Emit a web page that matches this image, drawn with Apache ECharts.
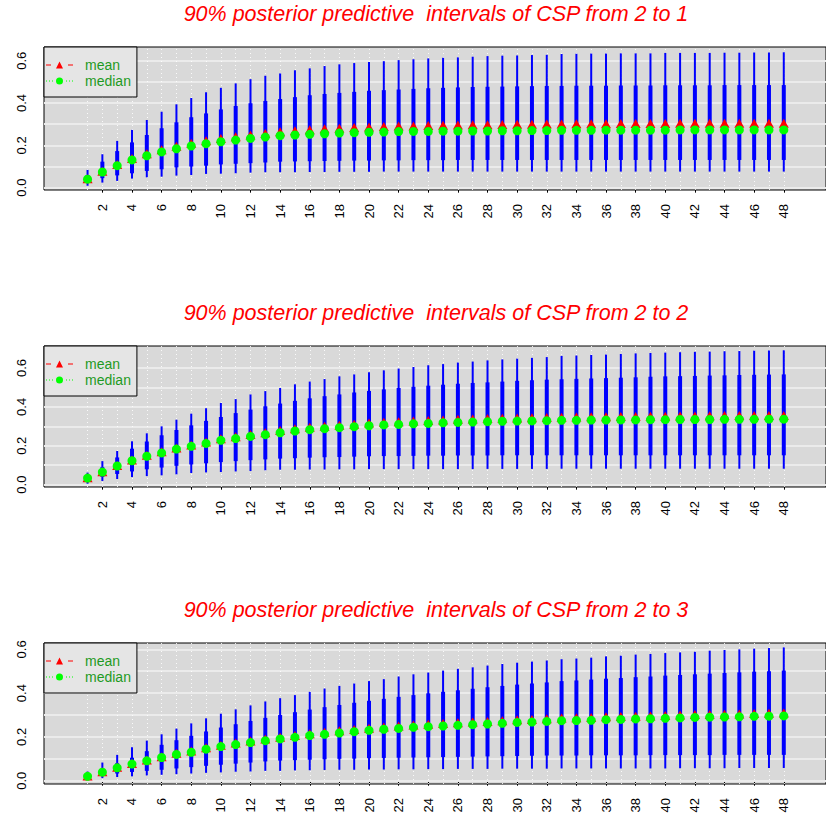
<!DOCTYPE html>
<html>
<head>
<meta charset="utf-8">
<script src="https://cdn.jsdelivr.net/npm/echarts@6/dist/echarts.min.js"></script>
<style>
  html, body { margin: 0; padding: 0; background: #fff; }
  #main { width: 826px; height: 823px; }
</style>
</head>
<body>
<div id="main"></div>
<script>
// forecast steps and axis ticks
var steps = [1,2,3,4,5,6,7,8,9,10,11,12,13,14,15,16,17,18,19,20,21,22,23,24,
             25,26,27,28,29,30,31,32,33,34,35,36,37,38,39,40,41,42,43,44,45,46,47,48];
var xTickValues = [2,4,6,8,10,12,14,16,18,20,22,24,26,28,30,32,34,36,38,40,42,44,46,48];
var yTickValues = [0,0.1,0.2,0.3,0.4,0.5,0.6];
var yLabelValues = [0,0.2,0.4,0.6];
var titles = [
  '90% posterior predictive  intervals of CSP from 2 to 1',
  '90% posterior predictive  intervals of CSP from 2 to 2',
  '90% posterior predictive  intervals of CSP from 2 to 3'
];

// ---- CSP 2 -> 1 ----
var mean1 = [0.042,0.078,0.110,0.138,0.160,0.179,0.196,0.210,0.222,0.232,0.241,0.249,
             0.256,0.264,0.269,0.274,0.278,0.281,0.284,0.287,0.289,0.291,0.292,0.294,
             0.295,0.296,0.297,0.298,0.299,0.300,0.300,0.301,0.301,0.302,0.302,0.302,
             0.303,0.303,0.303,0.303,0.304,0.304,0.304,0.304,0.304,0.304,0.304,0.304];
var median1 = [0.040,0.074,0.104,0.131,0.151,0.169,0.184,0.197,0.208,0.217,0.225,0.233,
               0.239,0.246,0.249,0.252,0.255,0.258,0.260,0.262,0.263,0.265,0.266,0.266,
               0.267,0.267,0.268,0.268,0.269,0.269,0.270,0.270,0.271,0.271,0.271,0.272,
               0.272,0.272,0.272,0.272,0.273,0.273,0.273,0.273,0.273,0.273,0.273,0.273];
var lo90_1 = [0.009,0.024,0.032,0.043,0.049,0.052,0.057,0.060,0.065,0.066,0.068,0.071,
              0.073,0.073,0.073,0.074,0.074,0.075,0.075,0.075,0.076,0.076,0.076,0.076,
              0.076,0.076,0.076,0.076,0.076,0.076,0.076,0.076,0.076,0.076,0.076,0.076,
              0.076,0.076,0.076,0.076,0.076,0.076,0.076,0.076,0.076,0.076,0.076,0.076];
var lo50_1 = [0.022,0.045,0.058,0.068,0.079,0.087,0.096,0.100,0.104,0.110,0.113,0.116,
              0.119,0.123,0.124,0.125,0.126,0.127,0.128,0.128,0.129,0.129,0.130,0.130,
              0.130,0.131,0.131,0.131,0.131,0.131,0.131,0.131,0.131,0.131,0.131,0.131,
              0.131,0.131,0.131,0.131,0.131,0.131,0.131,0.131,0.131,0.131,0.131,0.131];
var hi50_1 = [0.060,0.123,0.173,0.214,0.249,0.281,0.309,0.333,0.351,0.370,0.386,0.399,
              0.410,0.419,0.428,0.437,0.443,0.448,0.453,0.458,0.461,0.464,0.467,0.470,
              0.472,0.474,0.476,0.477,0.478,0.479,0.480,0.481,0.481,0.482,0.482,0.482,
              0.483,0.483,0.483,0.484,0.484,0.484,0.484,0.485,0.485,0.485,0.485,0.485];
var hi90_1 = [0.084,0.158,0.221,0.273,0.320,0.359,0.394,0.424,0.451,0.472,0.493,0.513,
              0.529,0.540,0.555,0.564,0.575,0.583,0.589,0.594,0.598,0.603,0.607,0.611,
              0.614,0.616,0.619,0.622,0.624,0.625,0.627,0.628,0.632,0.633,0.634,0.634,
              0.635,0.635,0.635,0.637,0.637,0.637,0.637,0.638,0.638,0.639,0.639,0.640];

// ---- CSP 2 -> 2 ----
var mean2 = [0.035,0.067,0.099,0.127,0.151,0.169,0.189,0.204,0.220,0.236,0.246,0.258,
             0.267,0.278,0.287,0.295,0.300,0.306,0.311,0.317,0.321,0.324,0.328,0.330,
             0.333,0.336,0.338,0.340,0.342,0.343,0.344,0.345,0.347,0.348,0.349,0.349,
             0.350,0.351,0.352,0.352,0.353,0.353,0.354,0.355,0.355,0.355,0.356,0.356];
var median2 = [0.034,0.065,0.096,0.123,0.146,0.163,0.183,0.197,0.212,0.228,0.237,0.248,
               0.257,0.267,0.276,0.283,0.288,0.293,0.298,0.303,0.307,0.310,0.313,0.315,
               0.318,0.320,0.322,0.324,0.326,0.327,0.328,0.329,0.331,0.331,0.332,0.332,
               0.333,0.333,0.334,0.334,0.335,0.335,0.335,0.336,0.336,0.336,0.337,0.337];
var lo90_2 = [0.005,0.019,0.029,0.039,0.044,0.048,0.053,0.060,0.063,0.065,0.068,0.070,
              0.074,0.077,0.077,0.078,0.078,0.079,0.079,0.080,0.080,0.080,0.080,0.080,
              0.080,0.080,0.080,0.081,0.081,0.081,0.081,0.081,0.082,0.082,0.082,0.082,
              0.082,0.082,0.082,0.082,0.082,0.082,0.082,0.082,0.082,0.082,0.082,0.082];
var lo50_2 = [0.020,0.040,0.055,0.068,0.079,0.088,0.097,0.104,0.110,0.116,0.121,0.126,
              0.130,0.134,0.136,0.139,0.141,0.142,0.144,0.146,0.147,0.147,0.148,0.149,
              0.149,0.150,0.150,0.150,0.151,0.151,0.151,0.151,0.151,0.151,0.151,0.151,
              0.151,0.151,0.151,0.151,0.151,0.151,0.151,0.151,0.151,0.151,0.151,0.151];
var hi50_2 = [0.048,0.090,0.140,0.185,0.222,0.254,0.281,0.305,0.328,0.348,0.368,0.386,
              0.403,0.417,0.431,0.444,0.455,0.464,0.474,0.482,0.490,0.497,0.503,0.509,
              0.514,0.519,0.523,0.526,0.530,0.534,0.537,0.540,0.542,0.544,0.546,0.548,
              0.550,0.552,0.555,0.557,0.558,0.559,0.561,0.562,0.564,0.565,0.566,0.567];
var hi90_2 = [0.062,0.121,0.173,0.223,0.264,0.300,0.334,0.365,0.393,0.420,0.440,0.464,
              0.481,0.497,0.516,0.530,0.543,0.557,0.567,0.578,0.588,0.597,0.605,0.614,
              0.620,0.628,0.633,0.639,0.644,0.648,0.652,0.656,0.662,0.664,0.667,0.669,
              0.672,0.675,0.677,0.679,0.681,0.683,0.684,0.686,0.687,0.689,0.690,0.691];

// ---- CSP 2 -> 3 ----
var mean3 = [0.021,0.041,0.061,0.079,0.095,0.110,0.125,0.136,0.150,0.162,0.172,0.181,
             0.191,0.199,0.206,0.215,0.221,0.228,0.234,0.240,0.245,0.250,0.255,0.258,
             0.261,0.265,0.268,0.271,0.274,0.278,0.280,0.283,0.286,0.288,0.289,0.292,
             0.293,0.295,0.296,0.298,0.300,0.302,0.303,0.304,0.305,0.307,0.308,0.309];
var median3 = [0.020,0.039,0.059,0.076,0.091,0.106,0.120,0.130,0.144,0.156,0.165,0.174,
               0.183,0.191,0.198,0.206,0.212,0.218,0.224,0.230,0.235,0.239,0.244,0.247,
               0.250,0.253,0.256,0.259,0.262,0.266,0.268,0.271,0.274,0.275,0.276,0.279,
               0.280,0.282,0.283,0.285,0.287,0.289,0.290,0.291,0.292,0.294,0.295,0.296];
var lo90_3 = [0.005,0.012,0.017,0.020,0.024,0.027,0.030,0.033,0.036,0.038,0.041,0.042,
              0.045,0.045,0.047,0.048,0.049,0.050,0.050,0.051,0.051,0.052,0.052,0.053,
              0.053,0.054,0.054,0.054,0.055,0.055,0.055,0.055,0.056,0.056,0.056,0.056,
              0.056,0.056,0.056,0.056,0.057,0.057,0.057,0.057,0.058,0.058,0.058,0.058];
var lo50_3 = [0.012,0.024,0.033,0.040,0.045,0.050,0.056,0.062,0.068,0.073,0.078,0.083,
              0.088,0.092,0.094,0.096,0.098,0.100,0.101,0.103,0.104,0.105,0.106,0.107,
              0.108,0.109,0.110,0.111,0.112,0.113,0.114,0.115,0.115,0.115,0.116,0.116,
              0.116,0.116,0.117,0.117,0.117,0.117,0.117,0.118,0.118,0.118,0.118,0.118];
var hi50_3 = [0.030,0.055,0.080,0.105,0.135,0.164,0.185,0.205,0.225,0.243,0.258,0.273,
              0.287,0.300,0.313,0.325,0.336,0.346,0.356,0.365,0.374,0.383,0.391,0.399,
              0.406,0.413,0.420,0.427,0.433,0.439,0.444,0.449,0.455,0.458,0.462,0.466,
              0.469,0.473,0.476,0.480,0.483,0.486,0.489,0.492,0.495,0.498,0.500,0.503];
var hi90_3 = [0.042,0.083,0.118,0.153,0.183,0.212,0.238,0.262,0.285,0.306,0.326,0.344,
              0.362,0.377,0.391,0.406,0.421,0.433,0.444,0.455,0.464,0.476,0.486,0.494,
              0.503,0.511,0.518,0.526,0.533,0.539,0.544,0.549,0.555,0.558,0.562,0.568,
              0.571,0.576,0.579,0.583,0.586,0.589,0.594,0.597,0.600,0.603,0.606,0.609];

var panels = [
  {title: titles[0], mean: mean1, median: median1, lo90: lo90_1, lo50: lo50_1, hi50: hi50_1, hi90: hi90_1},
  {title: titles[1], mean: mean2, median: median2, lo90: lo90_2, lo50: lo50_2, hi50: hi50_2, hi90: hi90_2},
  {title: titles[2], mean: mean3, median: median3, lo90: lo90_3, lo50: lo50_3, hi50: hi50_3, hi90: hi90_3}
];

// layout of the three panels
var gridTop = [47, 346, 643];
var gridHeight = [143, 141, 141];
var yMin = [-0.011, -0.012, -0.015];
var yMax = [0.665, 0.713, 0.629];
var FONT = '"Liberation Sans", Arial, Helvetica, sans-serif';
var LEGEND_GREEN = '#1f9a1f';

var meanIcon = 'path://M0 3L5 3L5 4L0 4Z M22 3L27 3L27 4L22 4Z M10 7L13.5 0L17 7Z';
var medianIcon = 'path://M0 3L1 3L1 4L0 4Z M3 3L4 3L4 4L3 4Z M6 3L7 3L7 4L6 4Z ' +
  'M20 3L21 3L21 4L20 4Z M23 3L24 3L24 4L23 4Z M26 3L27 3L27 4L26 4Z ' +
  'M17 3.5A3.5 3.5 0 1 1 10 3.5A3.5 3.5 0 1 1 17 3.5Z';

var titleOpts = [], legends = [], grids = [], xAxes = [], yAxes = [], series = [];

panels.forEach(function (p, i) {
  titleOpts.push({
    text: p.title,
    left: 436,
    top: gridTop[i] - 44,
    textAlign: 'center',
    padding: 0,
    textStyle: { color: '#ff0000', fontStyle: 'italic', fontWeight: 'normal', fontSize: 21.5, fontFamily: FONT }
  });

  legends.push({
    data: [{ name: 'mean', icon: meanIcon }, { name: 'median', icon: medianIcon }],
    orient: 'vertical',
    left: 44,
    top: gridTop[i],
    itemWidth: 27,
    itemHeight: 7,
    itemGap: 2,
    padding: [11, 6, 9, 2],
    backgroundColor: '#e5e5e5',
    borderColor: '#000',
    borderWidth: 1,
    borderRadius: 0,
    itemStyle: { borderWidth: 0 },
    textStyle: { color: LEGEND_GREEN, fontSize: 14, fontFamily: FONT, padding: [0, 0, 0, 7] },
    selectedMode: false
  });

  grids.push({
    left: 44, top: gridTop[i], width: 786, height: gridHeight[i],
    show: true, backgroundColor: '#d9d9d9', borderColor: '#000', borderWidth: 1
  });

  xAxes.push({
    gridIndex: i, type: 'value', min: -1.94, max: 50.85,
    axisLine: { show: false },
    splitLine: { show: false },
    axisTick: { show: true, customValues: xTickValues, length: 5, lineStyle: { color: '#000', width: 1 } },
    axisLabel: { customValues: xTickValues, rotate: 90, margin: 14, fontSize: 13, color: '#000', fontFamily: FONT }
  });

  yAxes.push({
    gridIndex: i, type: 'value', min: yMin[i], max: yMax[i],
    axisLine: { show: false },
    splitLine: { show: false },
    axisTick: { show: true, customValues: yTickValues, length: 5, lineStyle: { color: '#000', width: 1 } },
    axisLabel: {
      customValues: yLabelValues, rotate: 90, align: 'center', verticalAlign: 'bottom',
      margin: 16, fontSize: 13, color: '#000', fontFamily: FONT,
      formatter: function (v) { return v.toFixed(1); }
    }
  });

  var gridLines = yTickValues.map(function (v) {
    return { yAxis: v, lineStyle: { color: '#ebebeb', width: 2, type: 'solid' } };
  }).concat(steps.map(function (s) {
    return { xAxis: s, lineStyle: { color: 'rgba(255,255,255,0.85)', width: 1, type: [1, 3] } };
  }));

  series.push({
    type: 'custom',
    name: 'interval',
    xAxisIndex: i, yAxisIndex: i,
    data: steps.map(function (s, k) { return [s, p.lo90[k], p.lo50[k], p.hi50[k], p.hi90[k]]; }),
    encode: { x: 0, y: [1, 2, 3, 4] },
    renderItem: function (params, api) {
      var x = api.value(0);
      var a = api.coord([x, api.value(1)]);
      var b = api.coord([x, api.value(4)]);
      var c = api.coord([x, api.value(2)]);
      var d = api.coord([x, api.value(3)]);
      return {
        type: 'group',
        children: [
          { type: 'line', shape: { x1: a[0], y1: a[1], x2: b[0], y2: b[1] }, style: { stroke: '#0000ff', lineWidth: 2 } },
          { type: 'line', shape: { x1: c[0], y1: c[1], x2: d[0], y2: d[1] }, style: { stroke: '#0000ff', lineWidth: 4 } }
        ]
      };
    },
    markLine: {
      silent: true, symbol: ['none', 'none'], label: { show: false },
      animation: false, z: 1, data: gridLines
    },
    z: 2
  });

  series.push({
    type: 'scatter', name: 'mean', xAxisIndex: i, yAxisIndex: i,
    data: steps.map(function (s, k) { return [s, p.mean[k]]; }),
    symbol: 'triangle', symbolSize: [10, 9],
    itemStyle: { color: '#ff0000', opacity: 1 },
    z: 3
  });

  series.push({
    type: 'scatter', name: 'median', xAxisIndex: i, yAxisIndex: i,
    data: steps.map(function (s, k) { return [s, p.median[k]]; }),
    symbol: 'circle', symbolSize: 9,
    itemStyle: { color: '#00ff00', opacity: 1 },
    z: 4
  });
});

var chart = echarts.init(document.getElementById('main'), null, { renderer: 'svg' });
chart.setOption({
  animation: false,
  backgroundColor: '#ffffff',
  title: titleOpts,
  legend: legends,
  grid: grids,
  xAxis: xAxes,
  yAxis: yAxes,
  series: series
});
</script>
</body>
</html>
